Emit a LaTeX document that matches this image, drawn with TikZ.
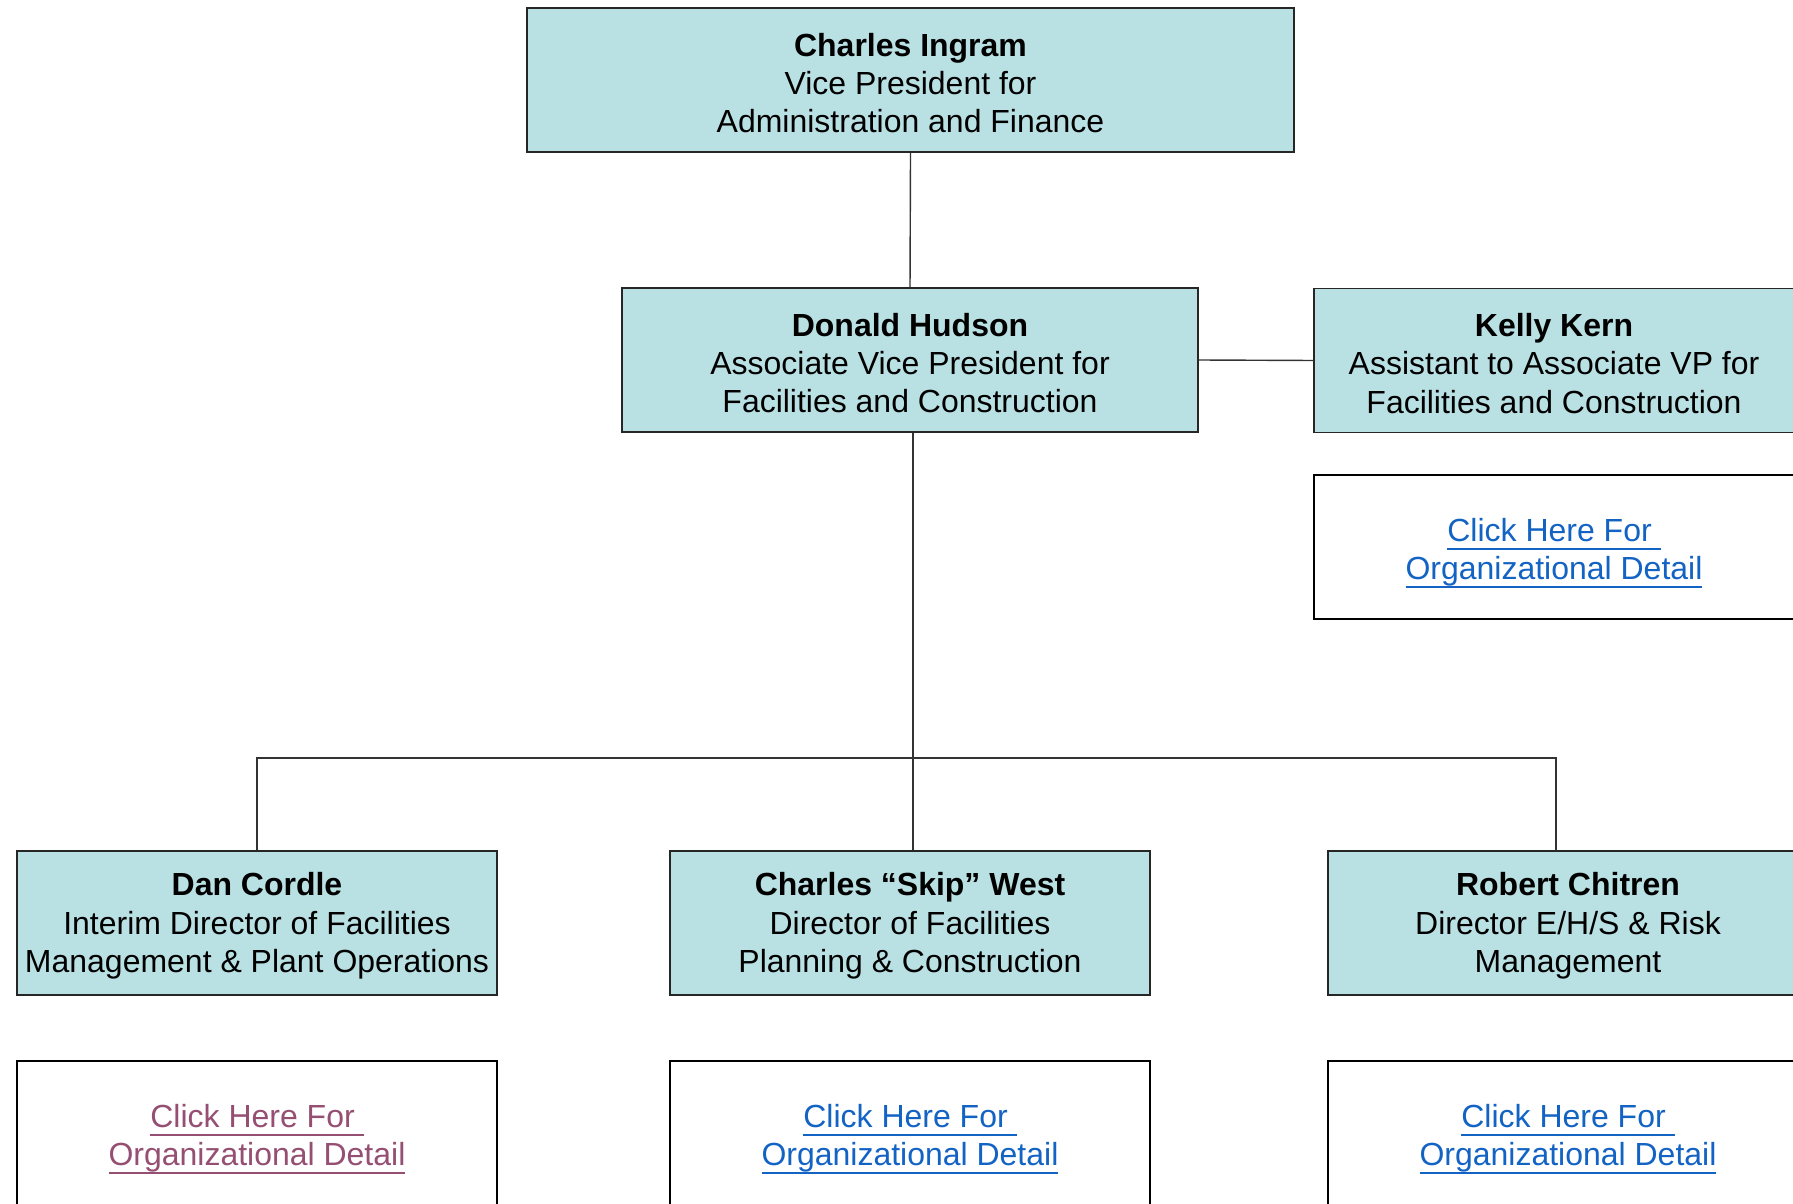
\documentclass[tikz,border=0pt]{standalone}
\usepackage{fontspec}
\setmainfont{Liberation Sans}
\usepackage{tikz}
\usetikzlibrary{calc}
\definecolor{boxteal}{RGB}{185,224,227}
\definecolor{linkblue}{RGB}{19,99,196}
\definecolor{linkvisited}{RGB}{149,79,114}
\newsavebox\ulinebox
\newcommand\lineunder[1]{\sbox\ulinebox{#1}\rlap{\rule[-0.17cm]{\wd\ulinebox}{1.1pt}}\usebox\ulinebox}
\newcommand\who[1]{\rule{0pt}{0.58cm}\textbf{#1}}
\def\linktext#1{\rule{0pt}{0.7cm}\textcolor{#1}{\lineunder{Click Here For\ }}\\\textcolor{#1}{\lineunder{Organizational Detail}}}
\tikzset{
	person/.style={draw=black!85, line width=1.1pt, fill=boxteal, align=center, inner xsep=0pt,
		minimum height=2.88cm, font=\fontsize{18.2}{21.8}\selectfont},
	linkbox/.style={draw=black, line width=1.1pt, fill=white, align=center, inner xsep=0pt,
		minimum width=9.6cm, minimum height=2.88cm, font=\fontsize{18.2}{21.8}\selectfont},
	tie/.style={line width=0.8pt, color=black!80}
}

\begin{document}
\begin{tikzpicture}
		%%%%% START %%%%%
		\useasboundingbox (0, 0) rectangle (35.86, 24.06);
		
		\node[person, minimum width=15.34cm] (ingram) at (18.21, 22.46) {\who{Charles Ingram}\\Vice President for\\Administration and Finance};
		\node[person, minimum width=11.52cm] (hudson) at (18.20, 16.86) {\who{Donald Hudson}\\Associate Vice President for\\Facilities and Construction};
		\node[person, minimum width=9.6cm] (kern) at (31.08, 16.85) {\who{Kelly Kern}\\Assistant to Associate VP for\\Facilities and Construction};
		\node[linkbox] (kernlink) at (31.08, 13.12) {\linktext{linkblue}};
		
		\node[person, minimum width=9.6cm] (cordle) at (5.14, 5.60) {\who{Dan Cordle}\\Interim Director of Facilities\\Management \& Plant Operations};
		\node[person, minimum width=9.6cm] (west) at (18.20, 5.60) {\who{Charles “Skip” West}\\Director of Facilities\\Planning \& Construction};
		\node[person, minimum width=9.6cm] (chitren) at (31.36, 5.60) {\who{Robert Chitren}\\Director E/H/S \& Risk\\Management};
		
		\node[linkbox] (cordlelink) at (5.14, 1.40) {\linktext{linkvisited}};
		\node[linkbox] (westlink) at (18.20, 1.40) {\linktext{linkblue}};
		\node[linkbox] (chitrenlink) at (31.36, 1.40) {\linktext{linkblue}};
		
		\coordinate (bar) at (18.26, 8.90);
		\coordinate (chitrentop) at (31.12, 7.04);
		
		\draw[tie] (ingram.south) -- (hudson.north);
		\draw[tie] (hudson.east) -- (kern.west);
		\draw[tie] (hudson.south -| bar) -- (bar) -- (west.north -| bar);
		\draw[tie] (cordle.north) |- (bar) -| (chitrentop);
		
		%%%%% END %%%%%
	\end{tikzpicture}
\end{document}
